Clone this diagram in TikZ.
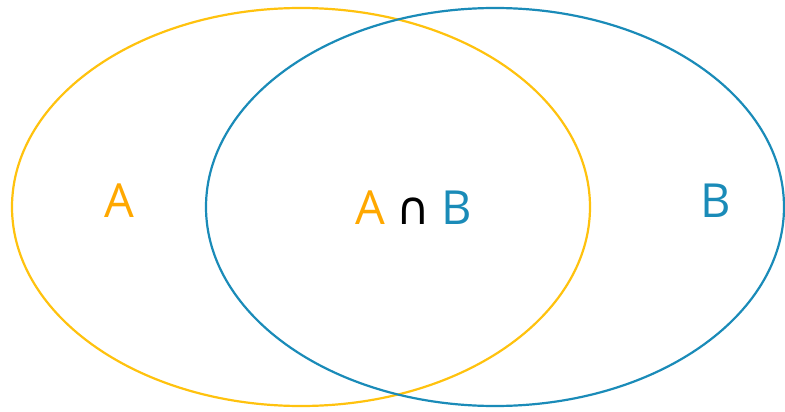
\documentclass[tikz,border=0pt]{standalone}
\usepackage{fontspec}
\setmainfont{Open Sans}
\newfontfamily\symfont{DejaVu Sans}
\definecolor{setA}{HTML}{FFC20E}
\definecolor{setAtext}{HTML}{FFA800}
\definecolor{setB}{HTML}{1A8BB8}
\begin{document}
\begin{tikzpicture}[x=1pt,y=-1pt,
  setline/.style={line width=2.2pt},
  lbl/.style={font=\fontsize{47}{47}\selectfont, inner sep=0pt, anchor=base}]
\useasboundingbox (0,0) rectangle (785,412);
\draw[setline, setA] (301,207) ellipse [x radius=289, y radius=199];
\draw[setline, setB] (495,207) ellipse [x radius=289, y radius=199];
\node[lbl, text=setAtext] (la) at (119,217) {A};
\node[lbl, text=setB] (lb) at (716,217) {B};
\node[lbl, text=setAtext] (ia) at (370,224) {A};
\node[lbl, text=black] (cap) at (413,224) {\symfont\fontsize{46}{46}\selectfont ∩};
\node[lbl, text=setB] (ib) at (457,224) {B};
\end{tikzpicture}
\end{document}
